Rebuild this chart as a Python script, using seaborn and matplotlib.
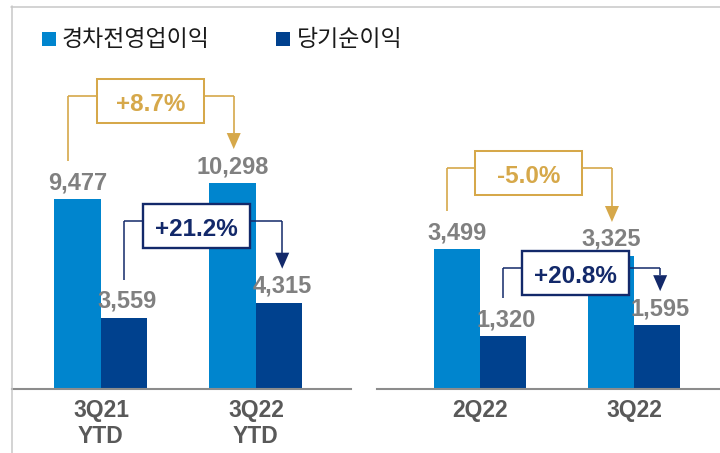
import matplotlib
matplotlib.use("Agg")
import matplotlib.pyplot as plt
import seaborn as sns
import pandas as pd
from matplotlib.patches import Rectangle, Polygon
from matplotlib.lines import Line2D

# ---------------- data ----------------
series = ["경차전영업이익", "당기순이익"]
periods_ytd = ["3Q21\nYTD", "3Q22\nYTD"]
periods_q = ["2Q22", "3Q22"]
op_ytd = [9477, 10298]
net_ytd = [3559, 4315]
op_q = [3499, 3325]
net_q = [1320, 1595]
chg_op_ytd = "+8.7%"
chg_net_ytd = "+21.2%"
chg_op_q = "-5.0%"
chg_net_q = "+20.8%"

# ---------------- style ----------------
LIGHT = "#0085CE"
DARK = "#00418E"
GOLD = "#D6A84A"
NAVY = "#13296A"
LABEL_GRAY = "#808080"
TICK_GRAY = "#595959"
FRAME = "#C8C8C8"

sns.set_style("white")
plt.rcParams["font.family"] = ["Liberation Sans", "Noto Sans CJK KR", "DejaVu Sans"]

W, H = 720, 453
fig = plt.figure(figsize=(W / 100, H / 100), dpi=100)


def fx(x):
    return x / W


def fy(y):
    return 1 - y / H


# outer frame (top + left)
fig.add_artist(Line2D([fx(11), fx(720)], [fy(6.5), fy(6.5)], transform=fig.transFigure,
                      color=FRAME, lw=1.1))
fig.add_artist(Line2D([fx(11.5), fx(11.5)], [fy(6), fy(453)], transform=fig.transFigure,
                      color=FRAME, lw=1.1))

ax1 = fig.add_axes([fx(12), fy(389), (351 - 12) / W, (389 - 60) / H])
ax2 = fig.add_axes([fx(377), fy(389), (720 - 377) / W, (389 - 60) / H])


def make_df(cats, op, net):
    return pd.DataFrame({
        "period": cats * 2,
        "series": [series[0]] * len(cats) + [series[1]] * len(cats),
        "value": op + net,
    })


panels = [
    (ax1, periods_ytd, op_ytd, net_ytd, (-0.574, 1.613), 16450),
    (ax2, periods_q, op_q, net_q, (-0.669, 1.558), 8225),
]

for ax, cats, op, net, xl, ytop in panels:
    df = make_df(cats, op, net)
    sns.barplot(data=df, x="period", y="value", hue="series", order=cats,
                hue_order=series, palette=[LIGHT, DARK], width=0.6, gap=0,
                saturation=1, legend=False, linewidth=0, ax=ax)
    ax.set_xlim(*xl)
    ax.set_ylim(0, ytop)
    ax.set_xlabel("")
    ax.set_ylabel("")
    ax.set_yticks([])
    for s in ["top", "right", "left"]:
        ax.spines[s].set_visible(False)
    ax.spines["bottom"].set_color("#8C8C8C")
    ax.spines["bottom"].set_linewidth(1.5)
    ax.tick_params(axis="x", length=0, pad=7, labelsize=16.5, labelcolor=TICK_GRAY)
    for t in ax.get_xticklabels():
        t.set_fontweight("bold")
    ax.set_facecolor("none")
    for p in ax.patches:
        h = p.get_height()
        if h <= 0:
            continue
        p.set_linewidth(0)
        cx = p.get_x() + p.get_width() / 2
        dx = 2 if (cx - round(cx)) > 0 else 0
        ax.annotate(f"{int(round(h)):,}", (cx, h), xytext=(dx, 7.2),
                    textcoords="offset points", ha="center", va="baseline",
                    fontsize=17, fontweight="bold", color=LABEL_GRAY)


def bar_geom(ax):
    ps = sorted([p for p in ax.patches if p.get_height() > 0], key=lambda p: p.get_x())
    out = []
    for p in ps:
        cx = p.get_x() + p.get_width() / 2
        X, Y = ax.transData.transform((cx, p.get_height()))
        out.append((X, H - Y))
    return out  # light0, dark0, light1, dark1


GAP_LEG = 38
GAP_TIP = 34


def line(xs, ys, color, lw):
    fig.add_artist(Line2D([fx(v) for v in xs], [fy(v) for v in ys],
                          transform=fig.transFigure, color=color, lw=lw,
                          solid_capstyle="butt"))


def bracket(a, b, level, color, text, leg_dx, arr_dx, line_lw, box_lw):
    ax_, ay = a
    bx, by = b
    legx = ax_ + leg_dx
    arrx = bx + arr_dx
    bcx = (ax_ + bx) / 2 - 5
    bcy = level + 5
    bw, bh = 107, 44
    tip = by - GAP_TIP
    hl, hw = 16, 7
    line([legx, legx], [ay - GAP_LEG, level], color, line_lw)
    line([legx, bcx - bw / 2], [level, level], color, line_lw)
    line([bcx + bw / 2, arrx], [level, level], color, line_lw)
    line([arrx, arrx], [level, tip - hl], color, line_lw)
    fig.add_artist(Polygon([(fx(arrx - hw), fy(tip - hl)), (fx(arrx + hw), fy(tip - hl)),
                            (fx(arrx), fy(tip))], closed=True, transform=fig.transFigure,
                           facecolor=color, edgecolor="none"))
    fig.add_artist(Rectangle((fx(bcx - bw / 2), fy(bcy + bh / 2)), bw / W, bh / H,
                             transform=fig.transFigure, facecolor="white",
                             edgecolor=color, lw=box_lw))
    fig.text(fx(bcx), fy(bcy + 10), text, ha="center", va="baseline", fontsize=17.5,
             fontweight="bold", color=color)


g1 = bar_geom(ax1)
g2 = bar_geom(ax2)
bracket(g1[0], g1[2], 96, GOLD, chg_op_ytd, -10, 1, 1.2, 1.45)
bracket(g1[1], g1[3], 221, NAVY, chg_net_ytd, 0, 3, 1.1, 1.7)
bracket(g2[0], g2[2], 168, GOLD, chg_op_q, -10, 1, 1.2, 1.45)
bracket(g2[1], g2[3], 268, NAVY, chg_net_q, 0, 3, 1.1, 1.7)

# legend
for (x0, xt), name, col in zip([(42, 62), (276, 297)], series, [LIGHT, DARK]):
    fig.add_artist(Rectangle((fx(x0), fy(45.5)), 14 / W, 13.5 / H, transform=fig.transFigure,
                             facecolor=col, edgecolor="none"))
    fig.text(fx(xt), fy(39), name, ha="left", va="center", fontsize=16.5,
             color="#1A1A1A", family=["Noto Sans CJK KR", "DejaVu Sans"])

fig.savefig("out.png", dpi=100, facecolor="white")
